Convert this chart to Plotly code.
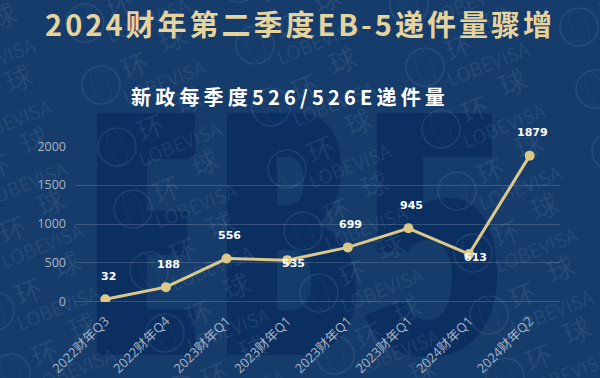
import base64
import plotly.graph_objects as go

# ---------------- data ----------------
title_text = "2024财年第二季度EB-5递件量骤增"
subtitle_text = "新政每季度526/526E递件量"
quarters = ["2022财年Q3", "2022财年Q4", "2023财年Q1", "2023财年Q1",
            "2023财年Q1", "2023财年Q1", "2024财年Q1", "2024财年Q2"]
filings = [32, 188, 556, 535, 699, 945, 613, 1879]
y_ticks = [0, 500, 1000, 1500, 2000]

# ---------------- style ----------------
W, H = 600, 378
ML, MR, MT, MB = 75, 40, 146, 76
PW, PH = W - ML - MR, H - MT - MB
BG = "#153c6b"
DARK = "#0b2f61"
GOLD = "#e6d49c"
LINE = "#dcc888"
TICK = "#a7b4c6"
GRID = "rgba(190,205,225,0.22)"

# decorative background (big EB5 letters + faint logo watermark), drawn as an svg image
letters = (
    # E
    "M97,113 H195 V159 H147 V211 H187 V255 H147 V309 H195 V355 H97 Z "
    # B
    "M227,113 H298 C326,113 341,134 341,168 C341,194 332,210 318,224 "
    "C342,234 356,258 356,290 C356,330 333,355 298,355 H227 Z "
    "M277,157 H288 C299,157 304,166 304,181 C304,196 299,205 288,205 H277 Z "
    "M277,250 H292 C305,250 311,262 311,280 C311,298 305,310 292,310 H277 Z "
    # 5
    "M377,113 H492 V157 H423 V205 C430,200 440,198 450,198 "
    "C480,198 497,230 497,275 C497,325 470,357 430,357 "
    "C395,357 372,340 365,315 L405,300 C410,315 418,320 428,320 "
    "C442,320 452,305 452,278 C452,252 442,240 428,240 "
    "C418,240 412,246 408,252 H377 Z"
)
logos = []
for i in range(-2, 5):
    for j in range(-4, 6):
        gx = 117 + i * 170 + j * 16
        gy = 147 + i * 22 + j * 62
        if -80 < gx < 640 and -50 < gy < 420:
            logos.append(
                f'<g transform="translate({gx},{gy}) rotate(-22)">'
                f'<circle cx="0" cy="0" r="19" fill="none" '
                f'stroke="rgba(150,175,205,0.14)" stroke-width="1.5"/>'
                f'<ellipse cx="0" cy="0" rx="8" ry="19" fill="none" '
                f'stroke="rgba(150,175,205,0.08)" stroke-width="1"/>'
                f'<text x="25" y="5" font-size="27">环</text>'
                f'<text x="70" y="-6" font-size="27">球</text>'
                f'<text x="16" y="28" font-size="19">LOBEVISA</text></g>'
            )
svg = (
    f'<svg xmlns="http://www.w3.org/2000/svg" width="{W}" height="{H}" '
    f'viewBox="0 0 {W} {H}" preserveAspectRatio="none">'
    f'<path d="{letters}" fill="{DARK}" fill-rule="evenodd"/>'
    f'<g font-family="Noto Sans CJK SC, DejaVu Sans, sans-serif" '
    f'fill="rgba(160,182,210,0.12)">' + "".join(logos) + "</g></svg>"
)
bg_uri = "data:image/svg+xml;base64," + base64.b64encode(svg.encode("utf-8")).decode()

xs = list(range(len(filings)))

fig = go.Figure()
fig.add_trace(go.Scatter(
    x=xs, y=filings, mode="lines+markers",
    line=dict(color=LINE, width=3),
    marker=dict(color=LINE, size=10),
    hoverinfo="skip", showlegend=False,
))

# data labels
centered = {3, 6}  # labels that sit on their point in the original
for i, v in enumerate(filings):
    on_point = i in centered
    fig.add_annotation(
        x=xs[i], y=v, text=f"<b>{v}</b>", showarrow=False,
        xshift=6 if on_point else 3, yshift=-3 if on_point else 23,
        font=dict(family="DejaVu Sans", size=11, color="white"),
    )

fig.add_annotation(
    xref="paper", yref="paper", x=(290 - ML) / PW, y=(H - MB - 96) / PH,
    text=f'<span style="letter-spacing:4.2px">{subtitle_text}</span>',
    showarrow=False, xanchor="center", yanchor="middle",
    font=dict(family="Noto Sans CJK SC", size=20, color="white", weight="bold"),
)

fig.update_layout(
    width=W, height=H,
    margin=dict(l=ML, r=MR, t=MT, b=MB),
    paper_bgcolor=BG, plot_bgcolor="rgba(0,0,0,0)",
    title=dict(
        text=f'<span style="letter-spacing:3px">{title_text}</span>',
        x=0.5, xanchor="center", y=1 - 26 / H, yanchor="middle",
        font=dict(family="Noto Sans CJK SC", size=29, color=GOLD, weight="bold"),
    ),
    xaxis=dict(
        range=[-0.5, len(filings) - 0.5], automargin=False,
        tickvals=xs, ticktext=quarters, tickangle=-45,
        showgrid=False, zeroline=False, showline=False, ticks="",
        ticklabelstandoff=8,
        tickfont=dict(family="Open Sans, Noto Sans CJK SC", size=13, color=TICK),
    ),
    yaxis=dict(
        range=[-3, 2003], tickvals=y_ticks, automargin=False,
        showgrid=True, gridcolor=GRID, gridwidth=1,
        zeroline=True, zerolinecolor=GRID, zerolinewidth=1,
        showline=False, ticks="", ticklabelstandoff=8,
        tickfont=dict(family="Open Sans", size=12.5, color=TICK),
    ),
    images=[dict(
        source=bg_uri, xref="paper", yref="paper",
        x=-ML / PW, y=1 + MT / PH, sizex=W / PW, sizey=H / PH,
        xanchor="left", yanchor="top", sizing="stretch", layer="below",
    )],
)

fig.write_html("out.html", config={"displayModeBar": False},
               post_script="document.body.style.margin='0';")
